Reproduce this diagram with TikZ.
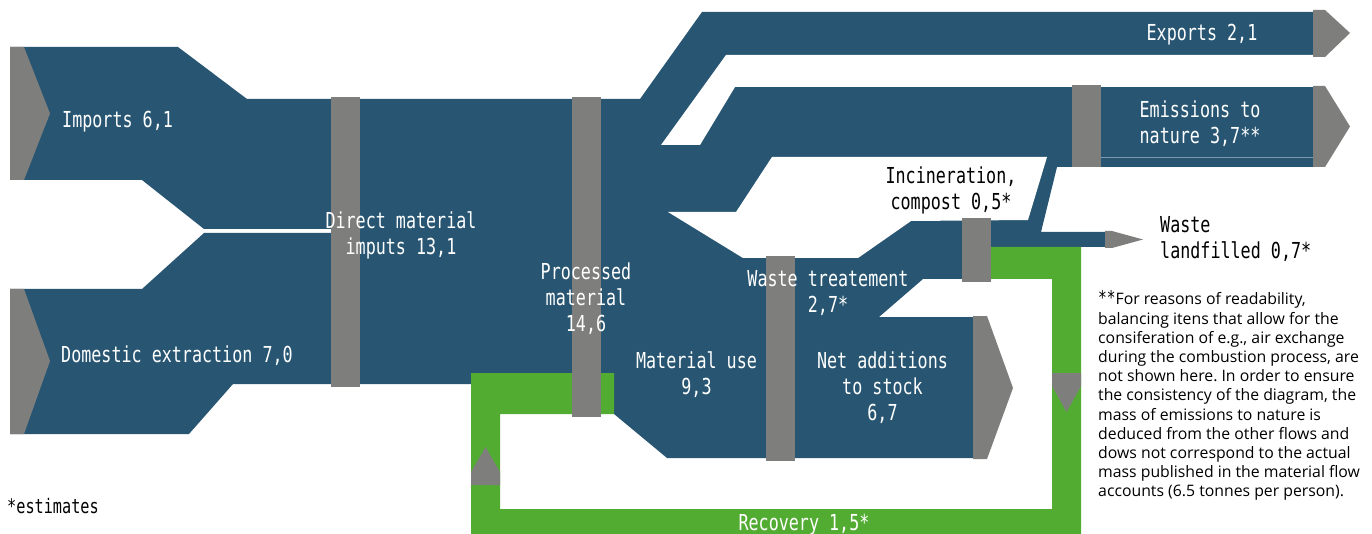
\documentclass[tikz,border=0pt]{standalone}
\usepackage{fontspec}
\newfontfamily\flowfont[FakeStretch=0.76]{DejaVu Sans Mono}
\newfontfamily\notefont{Open Sans}
\definecolor{flowblue}{HTML}{285672}
\definecolor{bargray}{HTML}{7E7E7D}
\definecolor{recgreen}{HTML}{52AC32}
\definecolor{seamblue}{HTML}{7C9BB0}
\frenchspacing
\tikzset{
  flow/.style={fill=flowblue, draw=none},
  gap/.style={fill=white, draw=none},
  recov/.style={fill=recgreen, draw=none},
  bar/.style={fill=bargray, draw=none},
  seam/.style={draw=seamblue, line width=0.8pt},
  lbl/.style={font=\flowfont\fontsize{22}{26}\selectfont, text=white, align=center, inner sep=0pt},
  dlbl/.style={lbl, text=black},
  note/.style={font=\notefont\fontsize{15.8}{19.2}\selectfont, text=black, align=left, inner sep=0pt}
}
\begin{document}
\begin{tikzpicture}[x=1pt, y=-1pt]
\useasboundingbox (0,0) rectangle (1372,534);
\fill[white] (0,0) rectangle (1372,534);

% input flows
\path[flow] (10,47) -- (178,47) -- (247,99) -- (331,99) -- (331,229) -- (204,229) -- (142,180) -- (10,180) -- cycle;
\path[flow] (10,289) -- (142,289) -- (204,233) -- (331,233) -- (331,384) -- (233,384) -- (189,434) -- (10,434) -- cycle;

% main trunk with its branches
\path[flow] (331,99) -- (640,99) -- (702,12) -- (1313,12) -- (1313,167) -- (1057,167) -- (1041,232)
  -- (1105,232) -- (1105,247) -- (977,247) -- (977,279) -- (923,279) -- (879,317) -- (973,317)
  -- (973,458) -- (667,458) -- (614,414) -- (614,384) -- (331,384) -- cycle;
% openings between the branches
\path[gap] (726,55) -- (1320,55) -- (1320,87) -- (735,87) -- (700,145) -- (661,145) -- cycle;
\path[gap] (772,157) -- (1047,157) -- (1028,220) -- (911,221) -- (858,258) -- (743,258) -- (668,212) -- (736,212) -- cycle;
\draw[seam] (1101,157) -- (1313,157);

% recovery loop
\path[recov] (471,373) -- (614,373) -- (614,414) -- (500,414) -- (500,509) -- (1052,509) -- (1052,279)
  -- (991,279) -- (991,247) -- (1081,247) -- (1081,534) -- (471,534) -- cycle;

% process bars
\path[bar] (331,97) rectangle (360,387);
\path[bar] (572,97) rectangle (601,417);
\path[bar] (766,256) rectangle (795,461);
\path[bar] (962,218) rectangle (991,282);
\path[bar] (1072,85) rectangle (1101,167);

% arrow heads
\path[bar] (10,47) -- (24,47) -- (50,113.5) -- (24,180) -- (10,180) -- cycle;
\path[bar] (10,289) -- (24,289) -- (50,361) -- (24,434) -- (10,434) -- cycle;
\path[bar] (1313,10) -- (1325,10) -- (1350,33) -- (1325,57) -- (1313,57) -- cycle;
\path[bar] (1313,86) -- (1325,86) -- (1350,126.5) -- (1325,167) -- (1313,167) -- cycle;
\path[bar] (1105,231) -- (1112,231) -- (1143,239.5) -- (1112,248) -- (1105,248) -- cycle;
\path[bar] (973,316) -- (987,316) -- (1013,388) -- (987,459) -- (973,459) -- cycle;
\path[bar] (471,485) -- (500,485) -- (500,472) -- (485.5,447) -- (471,472) -- cycle;
\path[bar] (1052,373) -- (1081,373) -- (1081,386) -- (1066.5,412) -- (1052,386) -- cycle;

% flow labels
\node[lbl, anchor=base west] (imports) at (62,128) {Imports 6,1};
\node[lbl, anchor=base west] (domestic) at (61,362) {Domestic extraction 7,0};
\node[lbl, anchor=north] (direct) at (401,211.3) {Direct material\\imputs 13,1};
\node[lbl, anchor=north] (processed) at (586,262.3) {Processed\\material\\14,6};
\node[lbl, anchor=north] (matuse) at (696.5,351.3) {Material use\\9,3};
\node[lbl, anchor=north] (wastetr) at (828,270) {Waste treatement\\2,7*};
\node[lbl, anchor=north] (netadd) at (882.5,351.3) {Net additions\\to stock\\6,7};
\node[lbl, anchor=base] (exports) at (1202,40.7) {Exports 2,1};
\node[lbl, anchor=north] (emissions) at (1200,100.3) {Emissions to\\nature 3,7**};
\node[lbl, anchor=base] (recovery) at (804,530) {Recovery 1,5*};
\node[dlbl, anchor=north] (incin) at (951,166.3) {Incineration,\\compost 0,5*};
\node[dlbl, anchor=north west, align=left] (landfill) at (1160,216) {Waste\\landfilled 0,7*};
\node[dlbl, anchor=base west, font=\flowfont\fontsize{20}{24}\selectfont] (estim) at (7,513) {*estimates};

% footnote
\node[note, anchor=north west] (footnote) at (1098,290.5) {{\flowfont\fontsize{19}{19}\selectfont **}For reasons of readability,\\
balancing itens that allow for the\\
consiferation of e.g., air exchange\\
during the combustion process, are\\
not shown here. In order to ensure\\
the consistency of the diagram, the\\
mass of emissions to nature is\\
deduced from the other flows and\\
dows not correspond to the actual\\
mass published in the material flow\\
accounts (6.5 tonnes per person).};
\end{tikzpicture}
\end{document}
